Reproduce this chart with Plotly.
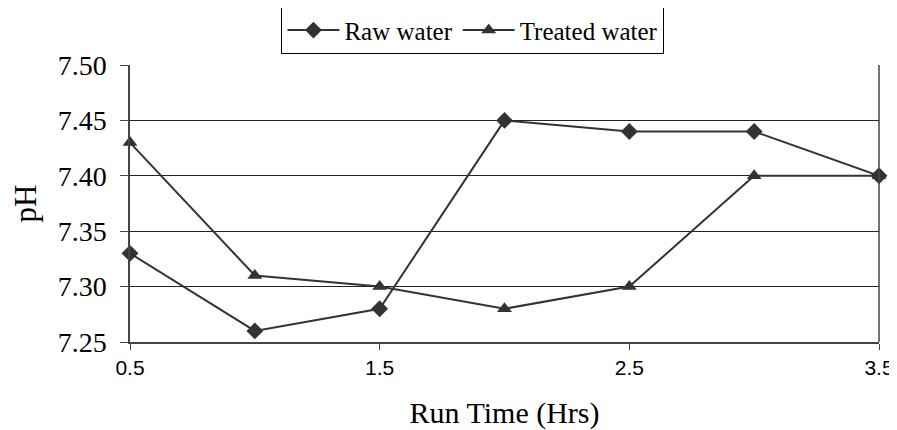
import plotly.graph_objects as go

run_time = [0.5, 1.0, 1.5, 2.0, 2.5, 3.0, 3.5]
raw_water = [7.33, 7.26, 7.28, 7.45, 7.44, 7.44, 7.40]
treated_water = [7.43, 7.31, 7.30, 7.28, 7.30, 7.40, 7.40]
x_ticks = [0.5, 1.5, 2.5, 3.5]
y_ticks = [7.25, 7.30, 7.35, 7.40, 7.45, 7.50]

line_color = "#333333"
serif = "Liberation Serif, Times New Roman, serif"

fig = go.Figure()
fig.add_trace(go.Scatter(
    x=run_time, y=raw_water, name="Raw water", mode="lines+markers",
    line=dict(color=line_color, width=2),
    marker=dict(symbol="diamond", size=13, color=line_color),
    cliponaxis=False,
))
fig.add_trace(go.Scatter(
    x=run_time, y=treated_water, name="Treated water", mode="lines+markers",
    line=dict(color=line_color, width=2),
    marker=dict(symbol="triangle-up", size=13, color=line_color),
    cliponaxis=False,
))

# page has an 8px body margin, so the figure is sized 889x422
fig.update_layout(
    width=889, height=422,
    margin=dict(l=122, r=18, t=57, b=88, autoexpand=False),
    paper_bgcolor="white", plot_bgcolor="white",
    showlegend=True,
    legend=dict(
        orientation="h", xref="container", yref="container",
        x=0.523, xanchor="center", y=0.947, yanchor="middle",
        bordercolor="black", borderwidth=1,
        font=dict(family=serif, size=25, color="black"),
        itemwidth=52, tracegroupgap=0,
    ),
    xaxis=dict(
        range=[0.5, 3.5], tickvals=x_ticks, ticktext=[str(v) for v in x_ticks],
        showgrid=False, zeroline=False, automargin=False,
        showline=True, linecolor="#444", linewidth=1.5, mirror=False,
        ticks="outside", ticklen=6, tickcolor="#444",
        ticklabelstandoff=0,
        tickfont=dict(family="Liberation Sans, Arial, sans-serif", size=21, color="black"),
        title=dict(text="Run Time (Hrs)", font=dict(family=serif, size=30, color="black"), standoff=29),
    ),
    yaxis=dict(
        range=[7.25, 7.50], tickvals=y_ticks, ticktext=[f"{v:.2f}" for v in y_ticks],
        showgrid=True, gridcolor="#222", gridwidth=1, zeroline=False, automargin=False,
        showline=True, linecolor="#444", linewidth=1.5, mirror=False,
        ticks="outside", ticklen=8, tickcolor="#444",
        ticklabelstandoff=8,
        tickfont=dict(family=serif, size=28, color="black"),
        title=dict(text="pH", font=dict(family=serif, size=31, color="black"), standoff=23),
    ),
)
fig.add_shape(type="line", xref="paper", yref="paper", x0=1, x1=1, y0=0, y1=1,
              line=dict(color="#444", width=1.5))

fig.write_html("out.html")
